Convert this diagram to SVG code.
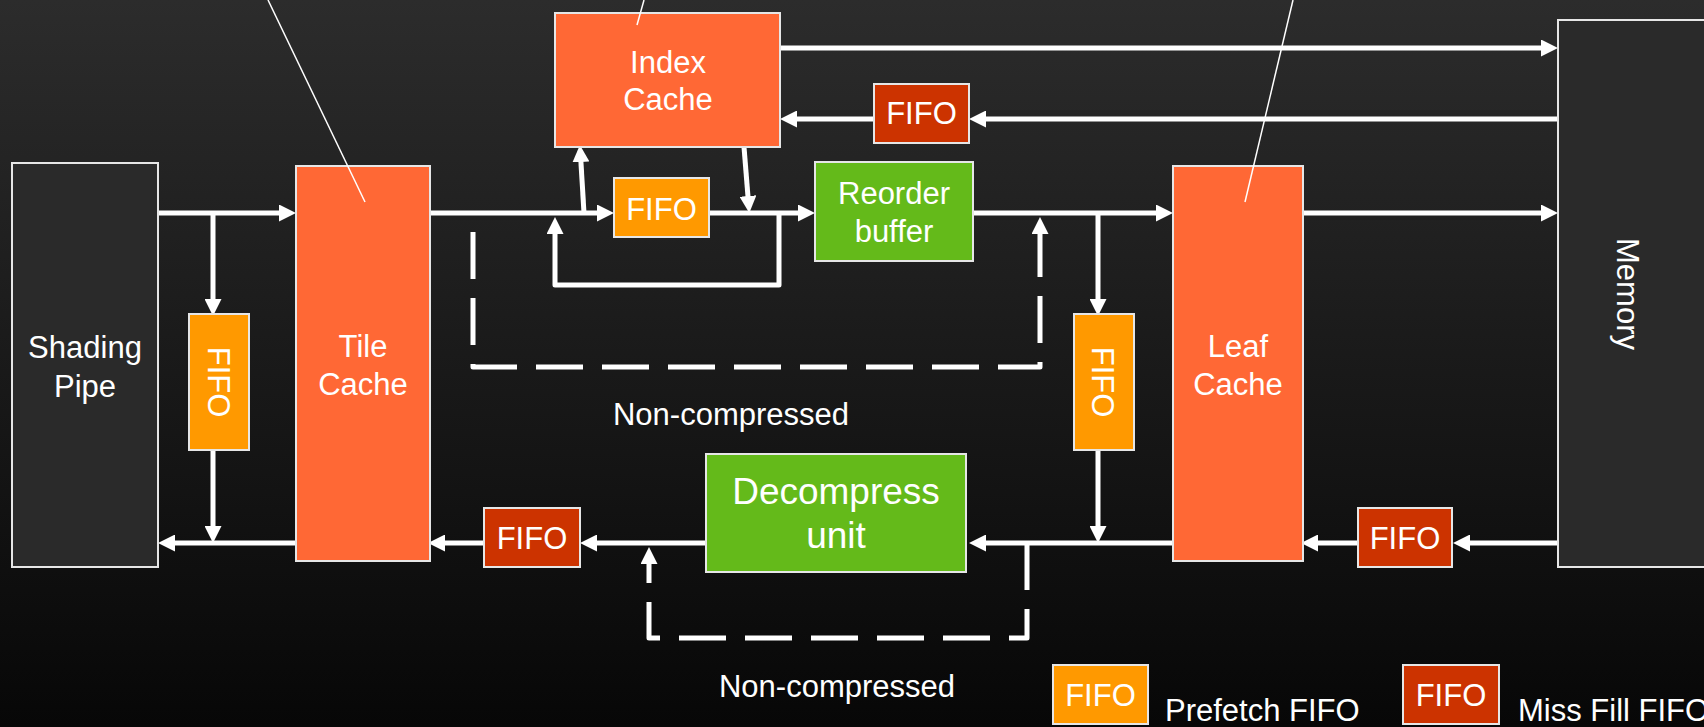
<svg xmlns="http://www.w3.org/2000/svg" width="1704" height="727" viewBox="0 0 1704 727">
<defs>
<linearGradient id="bg" x1="0" y1="0" x2="0" y2="1">
<stop offset="0" stop-color="#2c2c2c"/>
<stop offset="1" stop-color="#070707"/>
</linearGradient>
<marker id="ah" markerUnits="userSpaceOnUse" markerWidth="17" markerHeight="17" refX="7" refY="8.5" orient="auto">
<path d="M0,0 L17,8.5 L0,17 z" fill="#ffffff"/>
</marker>
<style>
.box{stroke:#e6e6e6;stroke-width:2}
.dark{fill:#2a2a2a}
.cache{fill:#ff6835}
.pf{fill:#ff9900}
.mf{fill:#cc3300}
.grn{fill:#64ba1a}
.t{font-family:"Liberation Sans",Arial,sans-serif;font-size:31px;fill:#ffffff;text-anchor:middle}
.tl{font-family:"Liberation Sans",Arial,sans-serif;font-size:31px;fill:#ffffff}
.big{font-size:37px}
.c{fill:none;stroke:#ffffff;stroke-width:5;stroke-linejoin:round}
.ca{fill:none;stroke:#ffffff;stroke-width:5;stroke-linejoin:round;marker-end:url(#ah)}
.d{fill:none;stroke:#ffffff;stroke-width:5;stroke-dasharray:47 19;stroke-linejoin:round}
.ann{fill:none;stroke:#ffffff;stroke-width:1.5}
</style>
</defs>
<rect x="0" y="0" width="1704" height="727" fill="url(#bg)"/>

<g id="connectors">
<line class="ca" x1="158" y1="213" x2="286" y2="213"/>
<line class="ca" x1="213" y1="213" x2="213" y2="306"/>
<line class="ca" x1="213" y1="450" x2="213" y2="533"/>
<line class="ca" x1="296" y1="543" x2="168" y2="543"/>
<line class="ca" x1="430" y1="213" x2="604" y2="213"/>
<line class="ca" x1="584" y1="213" x2="580.5" y2="155"/>
<line class="ca" x1="744" y1="147" x2="748.5" y2="203"/>
<line class="ca" x1="709" y1="213" x2="805" y2="213"/>
<path class="ca" d="M779,213 L779,285 L555,285 L555,227"/>
<line class="ca" x1="973" y1="213" x2="1163" y2="213"/>
<line class="ca" x1="1098" y1="213" x2="1098" y2="306"/>
<line class="ca" x1="1098" y1="450" x2="1098" y2="533"/>
<line class="ca" x1="1173" y1="543" x2="979" y2="543"/>
<line class="ca" x1="706" y1="543" x2="590" y2="543"/>
<line class="ca" x1="484" y1="543" x2="438" y2="543"/>
<line class="ca" x1="1558" y1="543" x2="1463" y2="543"/>
<line class="ca" x1="1358" y1="543" x2="1311" y2="543"/>
<line class="ca" x1="1303" y1="213" x2="1548" y2="213"/>
<line class="ca" x1="780" y1="48" x2="1548" y2="48"/>
<line class="ca" x1="1558" y1="119" x2="979" y2="119"/>
<line class="ca" x1="874" y1="119" x2="790" y2="119"/>
<path class="d" d="M473,232 L473,367 L1040,367 L1040,230"/>
<line class="ca" x1="1040" y1="231" x2="1040" y2="227" style="stroke:none"/>
<path class="d" d="M1027,543 L1027,638 L649,638 L649,562"/>
<line class="ca" x1="649" y1="561" x2="649" y2="557" style="stroke:none"/>
</g>

<g id="shading-pipe">
<rect class="box dark" x="12" y="163" width="146" height="404"/>
<text class="t" x="85" y="358">Shading</text>
<text class="t" x="85" y="397">Pipe</text>
</g>

<g id="prefetch-fifo-left">
<rect class="box pf" x="189" y="314" width="60" height="136"/>
<text class="t" transform="translate(208,382) rotate(90)">FIFO</text>
</g>

<g id="tile-cache">
<rect class="box cache" x="296" y="166" width="134" height="395"/>
<text class="t" x="363" y="357">Tile</text>
<text class="t" x="363" y="395">Cache</text>
</g>

<g id="index-cache">
<rect class="box cache" x="555" y="13" width="225" height="134"/>
<text class="t" x="668" y="73">Index</text>
<text class="t" x="668" y="110">Cache</text>
</g>

<g id="miss-fifo-top">
<rect class="box mf" x="874" y="84" width="95" height="59"/>
<text class="t" x="921.5" y="124">FIFO</text>
</g>

<g id="prefetch-fifo-mid">
<rect class="box pf" x="614" y="178" width="95" height="59"/>
<text class="t" x="661.5" y="220">FIFO</text>
</g>

<g id="reorder-buffer">
<rect class="box grn" x="815" y="162" width="158" height="99"/>
<text class="t" x="894" y="204">Reorder</text>
<text class="t" x="894" y="242">buffer</text>
</g>

<g id="prefetch-fifo-right">
<rect class="box pf" x="1074" y="314" width="60" height="136"/>
<text class="t" transform="translate(1092,382) rotate(90)">FIFO</text>
</g>

<g id="leaf-cache">
<rect class="box cache" x="1173" y="166" width="130" height="395"/>
<text class="t" x="1238" y="357">Leaf</text>
<text class="t" x="1238" y="395">Cache</text>
</g>

<g id="memory">
<rect class="box dark" x="1558" y="20" width="200" height="547"/>
<text class="t" transform="translate(1617,294) rotate(90)">Memory</text>
</g>

<g id="decompress-unit">
<rect class="box grn" x="706" y="454" width="260" height="118"/>
<text class="t big" x="836" y="504">Decompress</text>
<text class="t big" x="836" y="548">unit</text>
</g>

<g id="miss-fifo-left">
<rect class="box mf" x="484" y="508" width="96" height="59"/>
<text class="t" x="532" y="549">FIFO</text>
</g>

<g id="miss-fifo-right">
<rect class="box mf" x="1358" y="508" width="94" height="59"/>
<text class="t" x="1405" y="549">FIFO</text>
</g>

<g id="annotations">
<line class="ann" x1="268" y1="0" x2="365" y2="202"/>
<line class="ann" x1="644" y1="0" x2="637" y2="25"/>
<line class="ann" x1="1293" y1="0" x2="1245" y2="202"/>
</g>

<g id="labels">
<text class="t" x="731" y="425">Non-compressed</text>
<text class="t" x="837" y="697">Non-compressed</text>
</g>

<g id="legend">
<rect class="box pf" x="1053" y="665" width="95" height="59"/>
<text class="t" x="1100.5" y="706">FIFO</text>
<text class="tl" x="1165" y="721">Prefetch FIFO</text>
<rect class="box mf" x="1403" y="665" width="96" height="59"/>
<text class="t" x="1451" y="706">FIFO</text>
<text class="tl" x="1518" y="721">Miss Fill FIFO</text>
</g>
</svg>
